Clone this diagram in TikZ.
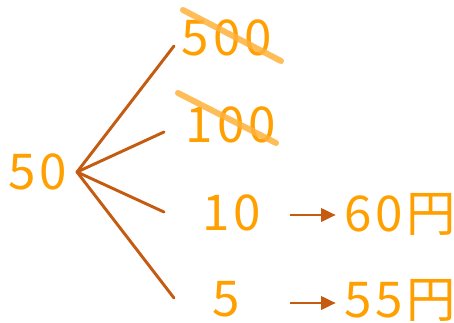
\documentclass[tikz,border=0pt]{standalone}
\usepackage{fontspec}
\usepackage{tikz}
\usetikzlibrary{arrows.meta,calc}
\newfontfamily\jpfont[LetterSpace=8]{Noto Sans CJK JP}
\definecolor{numorange}{HTML}{FFA000}
\definecolor{branchbrown}{HTML}{C55A11}
\definecolor{strikeorange}{HTML}{FFB13B}

\begin{document}
\begin{tikzpicture}[x=0.75pt,y=-0.75pt,
  num/.style={text=numorange, font=\jpfont\fontsize{37}{37}\selectfont, inner sep=0pt},
  branch/.style={draw=branchbrown, line width=2.2pt, line cap=round},
  arrow/.style={-{Triangle[length=11pt,width=10pt]}, draw=branchbrown, fill=branchbrown, line width=2pt},
  strike/.style={draw=strikeorange, line width=4.5pt, line cap=round, opacity=0.85}
]
  \useasboundingbox (0,0) rectangle (454,322);

  \node[num] (n50) at (38,172) {50};
  \node[num] (n500) at (227,38) {500};
  \node[num] (n100) at (231,125) {100};
  \node[num] (n10) at (232,213) {10};
  \node[num] (n5) at (226,299) {5};
  \node[num] (r60) at (400,214) {60円};
  \node[num] (r55) at (400,300) {55円};

  % fork and branch tips
  \coordinate (fork) at (77,172);
  \coordinate (t500) at (174,46);
  \coordinate (t100) at (164,132);
  \coordinate (t10) at (164,212);
  \coordinate (t5) at (174,298);

  \draw[branch] (fork) -- (t500);
  \draw[branch] (fork) -- (t100);
  \draw[branch] (fork) -- (t10);
  \draw[branch] (fork) -- (t5);

  % crossed out
  \draw[strike] ($(n500.center)+(-44,-28)$) -- ($(n500.center)+(54,23)$);
  \draw[strike] ($(n100.center)+(-53,-32)$) -- ($(n100.center)+(45,18)$);

  % arrows to the sums
  \coordinate (a60) at (290,215);
  \coordinate (a55) at (290,303);
  \draw[arrow] (a60) -- ([xshift=-6pt]a60 -| r60.west);
  \draw[arrow] (a55) -- ([xshift=-6pt]a55 -| r55.west);
\end{tikzpicture}
\end{document}
